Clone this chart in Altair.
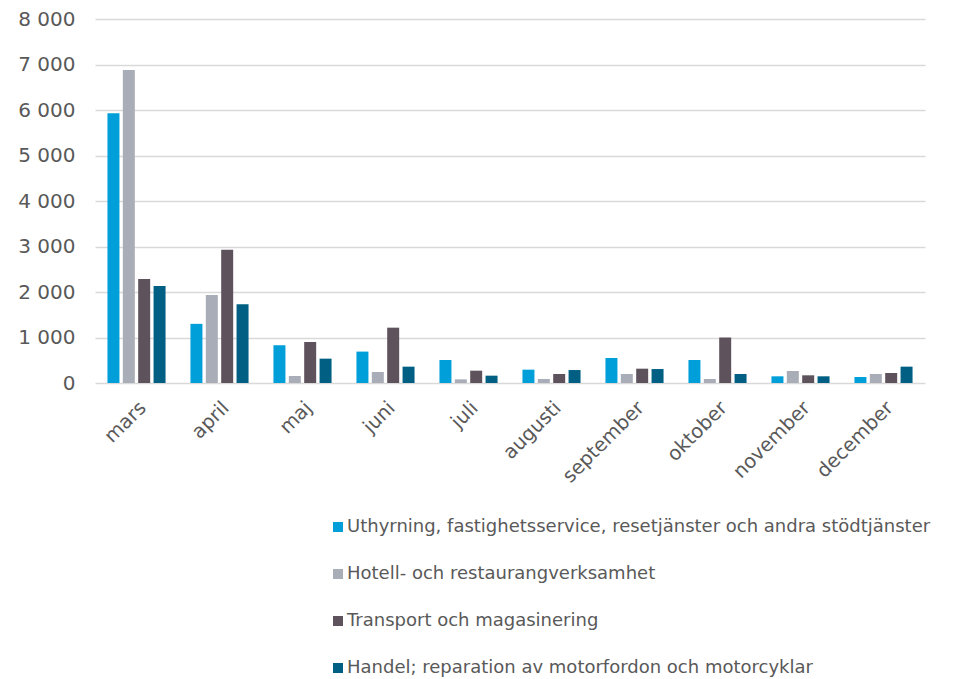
import altair as alt
import pandas as pd

months = ["mars", "april", "maj", "juni", "juli", "augusti", "september", "oktober", "november", "december"]
series = [
    "Uthyrning, fastighetsservice, resetjänster och andra stödtjänster",
    "Hotell- och restaurangverksamhet",
    "Transport och magasinering",
    "Handel; reparation av motorfordon och motorcyklar",
]
uthyrning = [5930, 1300, 830, 690, 505, 293, 549, 505, 147, 132]
hotell = [6880, 1934, 154, 242, 80, 88, 198, 88, 264, 198]
transport = [2286, 2930, 901, 1216, 271, 198, 315, 1000, 169, 220]
handel = [2132, 1730, 535, 359, 161, 285, 307, 198, 147, 359]
colors = ["#009FDA", "#A9ADB7", "#5E525C", "#005F83"]
y_ticks = [0, 1000, 2000, 3000, 4000, 5000, 6000, 7000, 8000]

rows = []
for s, vals in zip(series, [uthyrning, hotell, transport, handel]):
    for m, v in zip(months, vals):
        rows.append({"month": m, "series": s, "value": v})
df = pd.DataFrame(rows)

font = "DejaVu Sans"
txt = "#595959"

chart = alt.Chart(df).mark_bar().encode(
    x=alt.X("month:N", sort=months, title=None,
            scale=alt.Scale(paddingInner=0.3, paddingOuter=0.15),
            axis=alt.Axis(labelAngle=-45, labelFontSize=19.5, labelColor=txt, labelFont=font,
                          ticks=False, domain=False, labelPadding=15)),
    xOffset=alt.XOffset("series:N", sort=series, scale=alt.Scale(paddingInner=0.22)),
    y=alt.Y("value:Q", title=None, scale=alt.Scale(domain=[0, 8000], nice=False),
            axis=alt.Axis(values=y_ticks, labelFontSize=20, labelColor=txt, labelFont=font,
                          ticks=False, domain=False, gridColor="#D9D9D9", gridWidth=1.5,
                          labelPadding=20,
                          labelExpr="replace(format(datum.value, ','), ',', ' ')")),
    color=alt.Color("series:N", sort=series, scale=alt.Scale(domain=series, range=colors),
                    legend=alt.Legend(title=None, orient="none", legendX=234, legendY=499,
                                      direction="vertical", symbolType="square", symbolSize=100,
                                      symbolStrokeWidth=0, labelFontSize=18, labelColor=txt,
                                      labelFont=font, rowPadding=29, labelOffset=0,
                                      labelLimit=700, padding=0)),
).properties(
    width=830, height=364,
    autosize=alt.AutoSizeParams(type="none"),
    padding={"left": 87, "top": 11, "right": 20, "bottom": 294},
).configure_view(stroke=None)

chart.save("out.html", embed_options={"renderer": "svg", "actions": False})
